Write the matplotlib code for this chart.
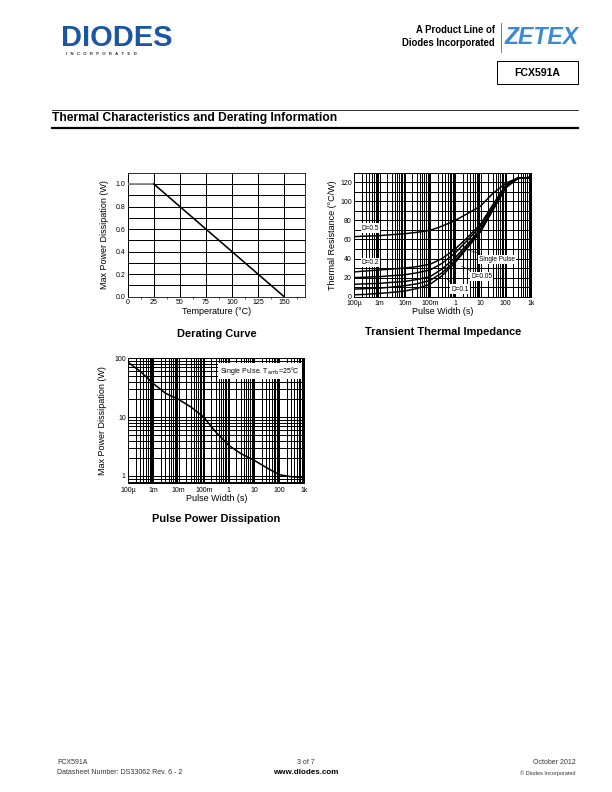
import matplotlib
matplotlib.use('Agg')
import matplotlib.pyplot as plt
from matplotlib.ticker import MultipleLocator, LogLocator, FixedLocator, NullFormatter, FuncFormatter
from matplotlib.lines import Line2D
from matplotlib.patches import Rectangle

plt.rcParams['font.family'] = ['Liberation Sans', 'DejaVu Sans']

# derating curve
temp_c = [0, 25, 150]
p_max = [1.0, 1.0, 0.0]

# pulse widths (s)
pulse_w = [1e-4, 3e-4, 1e-3, 3e-3, 1e-2, 3e-2, 0.1, 0.3, 1, 3, 10, 30, 100, 300, 1000]

# transient thermal impedance (°C/W)
rth_d05 = [63, 63.5, 64, 65, 66, 67.5, 69.5, 74, 80, 87, 95, 108, 119, 124.5, 125]
rth_d02 = [26, 27, 28, 29, 30, 31.5, 34, 40, 50, 62, 76, 96, 117, 124.5, 125]
rth_d01 = [20, 20.5, 21, 22, 23, 25, 28, 35, 46, 59, 74, 94, 116, 124, 125]
rth_d005 = [13, 13.5, 14, 15, 16, 18, 21, 29, 41, 55, 71, 92, 115, 124, 125]
rth_d002 = [8, 8.5, 9, 10, 11.5, 13.5, 17, 25, 38, 53, 69, 91, 115, 124, 125]
rth_single = [2, 2.5, 3.5, 4.5, 6, 8.5, 13, 22, 36, 51, 68, 90, 114, 124, 125]

# single pulse max power (W)
pp_single = [85, 60, 37, 25.5, 20, 15, 10, 5.6, 3.3, 2.4, 1.85, 1.4, 1.05, 0.97, 0.94]

pw_ticks = [1e-4, 1e-3, 1e-2, 1e-1, 1, 10, 100, 1000]
pw_labels = ['100µ', '1m', '10m', '100m', '1', '10', '100', '1k']

W, H = 612.0, 792.0
fig = plt.figure(figsize=(8.5, 11), dpi=72)


def box(x0, y0, x1, y1):
    # page pixel box -> figure fraction
    return [x0 / W, 1 - y1 / H, (x1 - x0) / W, (y1 - y0) / H]


def ftext(x, y, s, **kw):
    fig.text(x / W, 1 - y / H, s, **kw)


def hline(y, x0, x1, lw=1.0):
    fig.add_artist(Line2D([x0 / W, x1 / W], [1 - y / H, 1 - y / H], color='k', lw=lw))


def pw_fmt(v, pos):
    for t, l in zip(pw_ticks, pw_labels):
        if abs(v - t) / t < 1e-6:
            return l
    return ''


def log_x(ax):
    ax.set_xscale('log')
    ax.set_xlim(1e-4, 1e3)
    ax.xaxis.set_major_locator(FixedLocator(pw_ticks))
    ax.xaxis.set_minor_locator(LogLocator(base=10, subs=range(2, 10), numticks=20))
    ax.xaxis.set_major_formatter(FuncFormatter(pw_fmt))
    ax.xaxis.set_minor_formatter(NullFormatter())


def style(ax):
    ax.grid(True, which='both', color='k', lw=1.0)
    ax.tick_params(which='both', length=0, labelsize=7, pad=2.5)
    ax.tick_params(axis='x', pad=3.5)
    for s in ax.spines.values():
        s.set_linewidth(1.0)
    ax.set_axisbelow(True)


# ---------------- header ----------------
ftext(61, 37.5, 'DIODES', fontsize=29, fontweight='bold', color='#1c55a2', va='center', ha='left')
fig.add_artist(Line2D([61 / W, 175 / W], [1 - 38 / H, 1 - 38 / H], color='white', lw=1.2))
ftext(66, 54, 'I   N   C   O   R   P   O   R   A   T   E   D', fontsize=4.2, fontweight='bold',
      color='#333333', va='center')
ftext(495, 30, 'A Product Line of', fontsize=9.5, fontweight='bold', ha='right', va='center')
ftext(495, 42.5, 'Diodes Incorporated', fontsize=9.5, fontweight='bold', ha='right', va='center')
fig.add_artist(Line2D([500.5 / W, 500.5 / W], [1 - 23 / H, 1 - 52 / H], color='#555555', lw=0.8))
ftext(505, 37, 'ZETEX', fontsize=23, fontweight='bold', fontstyle='italic', color='#3b8ad8', va='center', ha='left')
fig.add_artist(Rectangle((497 / W, 1 - 84 / H), 81 / W, 23 / H, fill=False, ec='k', lw=1.0,
                         transform=fig.transFigure))
ftext(537.5, 72.5, 'FCX591A', fontsize=10.5, fontweight='bold', ha='center', va='center')

hline(110, 52, 578, lw=0.8)
ftext(52, 118.5, 'Thermal Characteristics and Derating Information', fontsize=12, fontweight='bold', va='center')
hline(127.5, 52, 578, lw=2.2)

# ---------------- derating curve ----------------
ax1 = fig.add_axes(box(127.7, 172.7, 305, 296.7))
ax1.plot(temp_c[:2], p_max[:2], color='#8a8a8a', lw=1.8, solid_capstyle='butt', zorder=3)
ax1.plot(temp_c[1:], p_max[1:], color='k', lw=1.6, zorder=3)
ax1.set_xlim(0, 170)
ax1.set_ylim(0, 1.1)
ax1.set_xticks([0, 25, 50, 75, 100, 125, 150])
ax1.xaxis.set_minor_locator(FixedLocator([12.5, 37.5, 62.5, 87.5, 112.5, 137.5, 162.5]))
ax1.set_yticks([0, 0.2, 0.4, 0.6, 0.8, 1.0])
ax1.yaxis.set_minor_locator(FixedLocator([0.1, 0.3, 0.5, 0.7, 0.9]))
ax1.yaxis.set_major_formatter(FuncFormatter(lambda v, p: '%.1f' % v))
ax1.grid(True, which='major', axis='x', color='k', lw=1.0)
ax1.grid(True, which='both', axis='y', color='k', lw=1.0)
ax1.tick_params(which='both', length=0, labelsize=7, pad=2.5)
ax1.tick_params(axis='x', which='minor', length=2, width=0.6)
ax1.set_axisbelow(True)
ax1.set_xlabel('Temperature (°C)', fontsize=9, labelpad=1)
ax1.set_ylabel('Max Power Dissipation (W)', fontsize=9, labelpad=6)
ax1.set_title('Derating Curve', fontsize=11, fontweight='bold', y=-0.37)

# ---------------- transient thermal impedance ----------------
ax2 = fig.add_axes(box(354.3, 172.7, 531, 296.7))
for r in [rth_d05, rth_d02, rth_d01, rth_d005, rth_d002, rth_single]:
    ax2.plot(pulse_w, r, color='k', lw=1.5)
log_x(ax2)
ax2.set_ylim(0, 130)
ax2.set_yticks([0, 20, 40, 60, 80, 100, 120])
ax2.yaxis.set_minor_locator(MultipleLocator(10))
style(ax2)
ax2.set_xlabel('Pulse Width (s)', fontsize=9, labelpad=0)
ax2.set_ylabel('Thermal Resistance (°C/W)', fontsize=9, labelpad=3)
ax2.set_title('Transient Thermal Impedance', fontsize=11, fontweight='bold', y=-0.36)

lbl = dict(fontsize=6.5, va='center', bbox=dict(fc='white', ec='none', pad=1.2))
ax2.text(2.0e-4, 72, 'D=0.5', ha='left', **lbl)
ax2.text(2.0e-4, 36, 'D=0.2', ha='left', **lbl)
arw = dict(arrowstyle='-', color='k', lw=0.6)
ax2.annotate('Single Pulse', xy=(2.5, 50), xytext=(45, 39), ha='center', arrowprops=arw, **lbl)
ax2.annotate('D=0.05', xy=(1.5, 33), xytext=(11, 21.5), ha='center', arrowprops=arw, **lbl)
ax2.annotate('D=0.1', xy=(0.4, 20), xytext=(1.5, 8), ha='center', arrowprops=arw, **lbl)

# ---------------- pulse power dissipation ----------------
ax3 = fig.add_axes(box(128.3, 358.3, 304.3, 483.3))
ax3.plot(pulse_w, pp_single, color='k', lw=1.6)
log_x(ax3)
ax3.set_yscale('log')
ax3.set_ylim(0.75, 100)
ax3.yaxis.set_major_locator(FixedLocator([1, 10, 100]))
ax3.yaxis.set_minor_locator(LogLocator(base=10, subs=range(2, 10), numticks=20))
ax3.yaxis.set_major_formatter(FuncFormatter(lambda v, p: '%g' % v))
ax3.yaxis.set_minor_formatter(NullFormatter())
style(ax3)
ax3.set_xlabel('Pulse Width (s)', fontsize=9, labelpad=0)
ax3.set_ylabel('Max Power Dissipation (W)', fontsize=9, labelpad=7)
ax3.set_title('Pulse Power Dissipation', fontsize=11, fontweight='bold', y=-0.36)
ax3.text(0.975, 0.895, 'Single Pulse. T$_{\\mathrm{amb}}$=25°C', transform=ax3.transAxes,
         ha='right', va='center', fontsize=7, bbox=dict(fc='white', ec='none', pad=2))

# ---------------- footer ----------------
ftext(57, 763, 'FCX591A', fontsize=7, va='center', color='#333333')
ftext(57, 773, 'Datasheet Number: DS33062 Rev. 6 - 2', fontsize=7, va='center', color='#333333')
ftext(306, 763, '3 of 7', fontsize=7, ha='center', va='center', color='#333333')
ftext(306, 773, 'www.diodes.com', fontsize=8, fontweight='bold', ha='center', va='center')
ftext(576, 763, 'October 2012', fontsize=7, ha='right', va='center', color='#333333')
ftext(576, 773, '© Diodes Incorporated', fontsize=5.5, ha='right', va='center', color='#333333')

fig.savefig('out.png', dpi=72)
